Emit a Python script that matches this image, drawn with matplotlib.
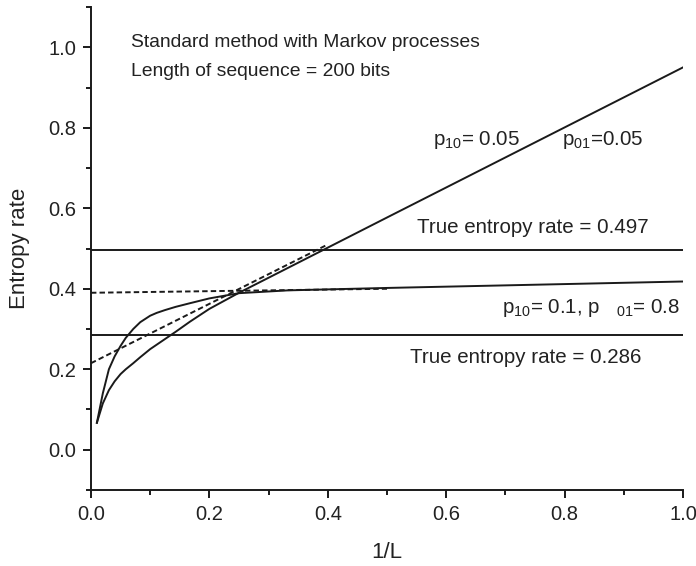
import matplotlib
matplotlib.use('Agg')
import matplotlib.pyplot as plt
import numpy as np

plt.rcParams['font.family'] = ['Liberation Sans', 'DejaVu Sans']
plt.rcParams['mathtext.default'] = 'regular'

# 1/L values
invL = [0.01, 0.02, 0.0303, 0.04, 0.05, 0.0588, 0.0714, 0.0833, 0.1, 0.111,
        0.125, 0.143, 0.167, 0.2, 0.25, 0.333, 0.5, 1.0]
# p10 = 0.05, p01 = 0.05
h_a = [0.067, 0.115, 0.148, 0.170, 0.188, 0.200, 0.215, 0.230, 0.250, 0.261,
       0.275, 0.293, 0.318, 0.350, 0.390, 0.452, 0.577, 0.950]
# p10 = 0.1, p01 = 0.8
h_b = [0.067, 0.140, 0.200, 0.232, 0.258, 0.278, 0.300, 0.317, 0.333, 0.340,
       0.347, 0.355, 0.364, 0.376, 0.389, 0.396, 0.402, 0.418]

# extrapolation (dashed) lines
fit_a_x = [0.0, 0.40]
fit_a_y = [0.215, 0.510]
fit_b_x = [0.0, 0.5]
fit_b_y = [0.390, 0.400]

true_a = 0.497
true_b = 0.286

fig = plt.figure(figsize=(6.96, 5.66), dpi=100)
ax = fig.add_axes([0.1307, 0.1343, 0.8506, 0.8533])

lw = 1.4
ink = '#1a1a1a'
ax.plot(invL, h_a, color=ink, lw=lw)
ax.plot(invL, h_b, color=ink, lw=lw)
ax.plot(fit_a_x, fit_a_y, color=ink, lw=lw, dashes=(2.8, 1.6))
ax.plot(fit_b_x, fit_b_y, color=ink, lw=lw, dashes=(2.8, 1.6))
ax.axhline(true_a, color=ink, lw=lw)
ax.axhline(true_b, color=ink, lw=lw)

ax.set_xlim(0, 1.0)
ax.set_ylim(-0.1, 1.1)
ax.set_xticks(np.arange(0, 1.01, 0.2))
ax.set_xticks(np.arange(0.1, 1.0, 0.2), minor=True)
ax.set_yticks(np.arange(0, 1.01, 0.2))
ax.set_yticks(np.arange(-0.1, 1.1, 0.2), minor=True)
ax.xaxis.set_major_formatter(matplotlib.ticker.FormatStrFormatter('%.1f'))
ax.yaxis.set_major_formatter(matplotlib.ticker.FormatStrFormatter('%.1f'))

for s in ['top', 'right']:
    ax.spines[s].set_visible(False)
for s in ['left', 'bottom']:
    ax.spines[s].set_linewidth(1.4)
    ax.spines[s].set_color(ink)

ax.tick_params(which='major', direction='out', length=5.5, width=1.4, labelsize=14.5, pad=5, color=ink, labelcolor='#222222')
ax.tick_params(which='minor', direction='out', length=3.5, width=1.4, color=ink)

ax.set_xlabel('1/L', fontsize=16, labelpad=13, color='#222222')
ax.set_ylabel('Entropy rate', fontsize=16, labelpad=13, color='#222222')

fs = 13.9
ax.text(0.068, 1.011, 'Standard method with Markov processes', fontsize=fs, va='center', color='#222222')
ax.text(0.068, 0.940, 'Length of sequence = 200 bits', fontsize=fs, va='center', color='#222222')
fa = 14.8
ax.text(0.578, 0.769, r'p$_{10}$= 0.05', fontsize=fa, va='center', color='#222222')
ax.text(0.796, 0.769, r'p$_{01}$=0.05', fontsize=fa, va='center', color='#222222')
ax.text(0.551, 0.551, 'True entropy rate = 0.497', fontsize=fa, va='center', color='#222222')
ax.text(0.694, 0.352, r'p$_{10}$= 0.1, p   $_{01}$= 0.8', fontsize=fa, va='center', color='#222222')
ax.text(0.539, 0.228, 'True entropy rate = 0.286', fontsize=fa, va='center', color='#222222')

fig.savefig('out.png', dpi=100)
